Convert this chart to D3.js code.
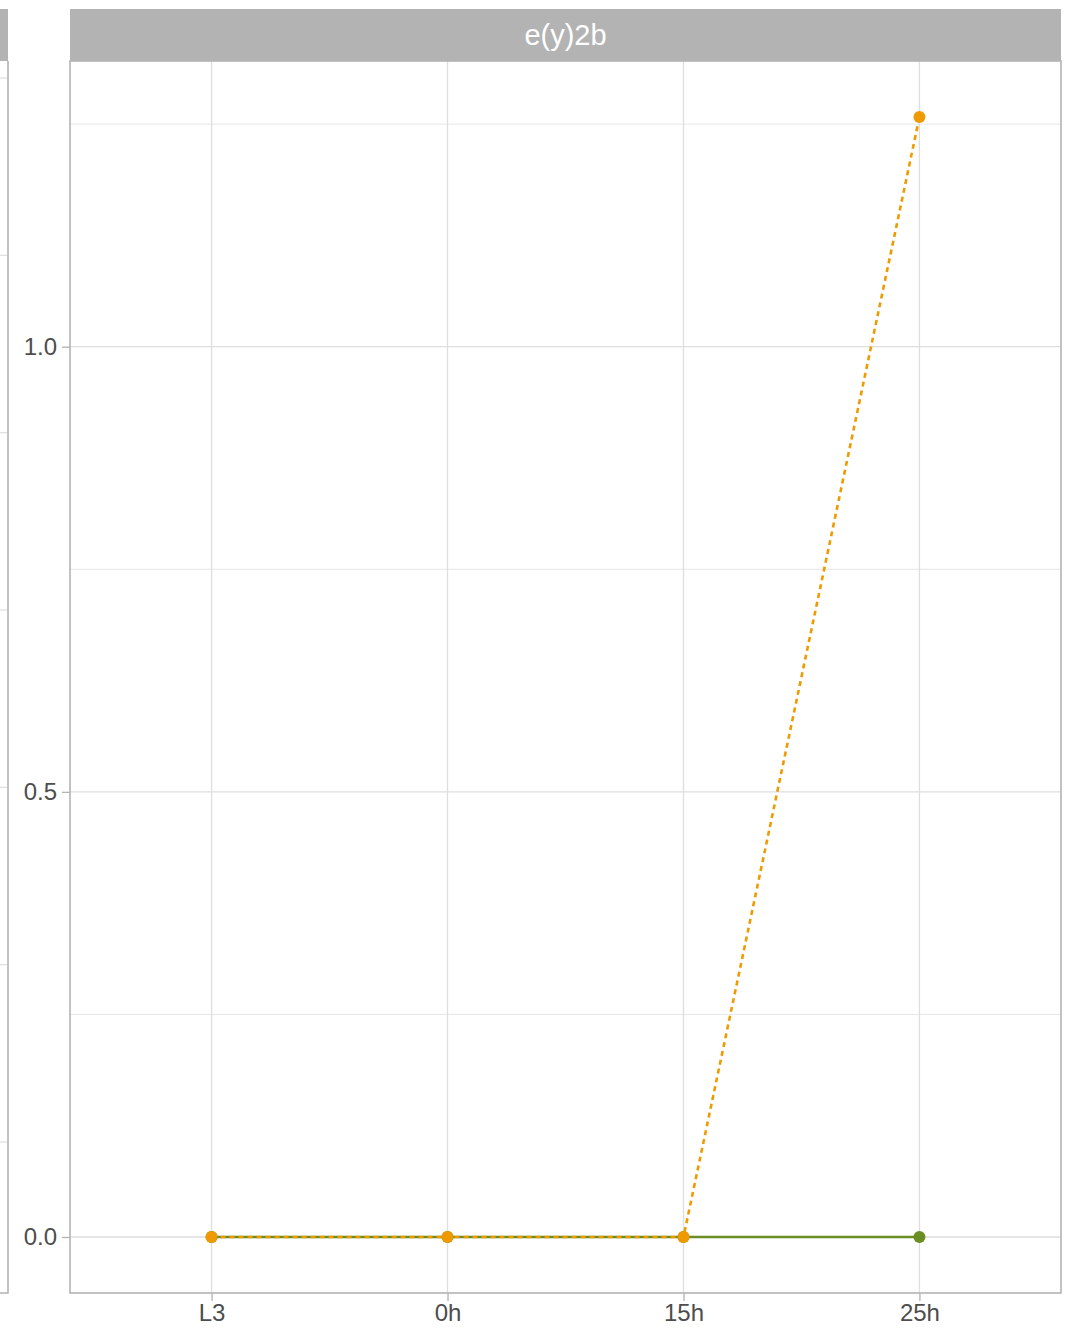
<!DOCTYPE html>
<html>
<head>
<meta charset="utf-8">
<script src="https://cdn.jsdelivr.net/npm/d3@7"></script>
<style>
  html, body { margin: 0; padding: 0; background: #fff; }
  svg { display: block; font-family: "Liberation Sans", Arial, sans-serif; }
</style>
</head>
<body>
<svg id="chart" width="1072" height="1336"></svg>
<script>
// ---- data ----
const categories = ["L3", "0h", "15h", "25h"];
const seriesNames = ["green", "orange"];
const greenValues = [0, 0, 0, 0];
const orangeValues = [0, 0, 0, 1.258];
const yTicks = [0.0, 0.5, 1.0];
const yMinorTicks = [0.25, 0.75, 1.25];
const facetTitle = "e(y)2b";
// left (cropped) neighbour panel gridline values on its own scale
const leftPanelGrid = [0, 1, 2, 3, 4, 5, 6];

// ---- layout ----
const svg = d3.select("#chart");
const panel = { x0: 70, x1: 1061, y0: 61, y1: 1293 };
const strip = { y0: 9, y1: 61 };

const yData = [0, d3.max(orangeValues)];
const span = yData[1] - yData[0];
const y = d3.scaleLinear()
  .domain([yData[0] - span * 0.05, yData[1] + span * 0.05])
  .range([panel.y1, panel.y0]);

const x = d3.scalePoint()
  .domain(categories)
  .range([panel.x0, panel.x1])
  .padding(0.6);

const gridColor = "#DEDEDE";
const borderColor = "#B3B3B3";
const textColor = "#4D4D4D";

// ---- left cropped panel ----
const leftY = d3.scaleLinear().domain([0, 6]).range([78, 1142]);
svg.append("rect").attr("x", 0).attr("y", strip.y0).attr("width", 8).attr("height", strip.y1 - strip.y0).attr("fill", borderColor);
svg.selectAll("line.lgrid").data(leftPanelGrid).enter().append("line")
  .attr("x1", 0).attr("x2", 8)
  .attr("y1", d => leftY(d)).attr("y2", d => leftY(d))
  .attr("stroke", gridColor).attr("stroke-width", 1.2);
svg.append("path")
  .attr("d", `M0,${panel.y1}H8V${panel.y0}`)
  .attr("fill", "none").attr("stroke", borderColor).attr("stroke-width", 1.6);

// ---- strip ----
svg.append("rect")
  .attr("x", panel.x0).attr("y", strip.y0)
  .attr("width", panel.x1 - panel.x0).attr("height", strip.y1 - strip.y0)
  .attr("fill", borderColor);
svg.append("text")
  .attr("x", (panel.x0 + panel.x1) / 2).attr("y", (strip.y0 + strip.y1) / 2)
  .attr("text-anchor", "middle").attr("dominant-baseline", "central")
  .attr("fill", "#fff").attr("font-size", 29)
  .text(facetTitle);

// ---- grid ----
const g = svg.append("g");
g.selectAll("line.minor").data(yMinorTicks).enter().append("line")
  .attr("x1", panel.x0).attr("x2", panel.x1)
  .attr("y1", d => y(d)).attr("y2", d => y(d))
  .attr("stroke", gridColor).attr("stroke-width", 0.8);
g.selectAll("line.major").data(yTicks).enter().append("line")
  .attr("x1", panel.x0).attr("x2", panel.x1)
  .attr("y1", d => y(d)).attr("y2", d => y(d))
  .attr("stroke", gridColor).attr("stroke-width", 1.3);
g.selectAll("line.vx").data(categories).enter().append("line")
  .attr("x1", d => x(d)).attr("x2", d => x(d))
  .attr("y1", panel.y0).attr("y2", panel.y1)
  .attr("stroke", gridColor).attr("stroke-width", 1.3);

// ---- axes ----
const yAxis = d3.axisLeft(y).tickValues(yTicks).tickFormat(d3.format(".1f")).tickSize(8).tickPadding(5);
const ya = svg.append("g").attr("transform", `translate(${panel.x0},0)`).call(yAxis);
ya.select(".domain").remove();
ya.selectAll("line").attr("stroke", borderColor).attr("stroke-width", 1.3);
ya.selectAll("text").attr("fill", textColor).attr("font-size", 24).attr("font-family", "Liberation Sans, Arial, sans-serif");

const xAxis = d3.axisBottom(x).tickSize(8).tickPadding(3);
const xa = svg.append("g").attr("transform", `translate(0,${panel.y1})`).call(xAxis);
xa.select(".domain").remove();
xa.selectAll("line").attr("stroke", borderColor).attr("stroke-width", 1.3);
xa.selectAll("text").attr("fill", textColor).attr("font-size", 24).attr("font-family", "Liberation Sans, Arial, sans-serif");

// ---- series ----
const series = [
  { name: seriesNames[0], values: greenValues, color: "#6B8E23", dash: null },
  { name: seriesNames[1], values: orangeValues, color: "#EE9A00", dash: "5,4" }
];
const line = d3.line().x((d, i) => x(categories[i])).y(d => y(d));
series.forEach(s => {
  svg.append("path")
    .datum(s.values)
    .attr("d", line)
    .attr("fill", "none")
    .attr("stroke", s.color)
    .attr("stroke-width", 2.6)
    .attr("stroke-dasharray", s.dash);
  svg.selectAll(null).data(s.values).enter().append("circle")
    .attr("cx", (d, i) => x(categories[i]))
    .attr("cy", d => y(d))
    .attr("r", 6)
    .attr("fill", s.color);
});

// ---- panel border ----
svg.append("rect")
  .attr("x", panel.x0).attr("y", panel.y0)
  .attr("width", panel.x1 - panel.x0).attr("height", panel.y1 - panel.y0)
  .attr("fill", "none").attr("stroke", borderColor).attr("stroke-width", 1.6);
</script>
</body>
</html>
